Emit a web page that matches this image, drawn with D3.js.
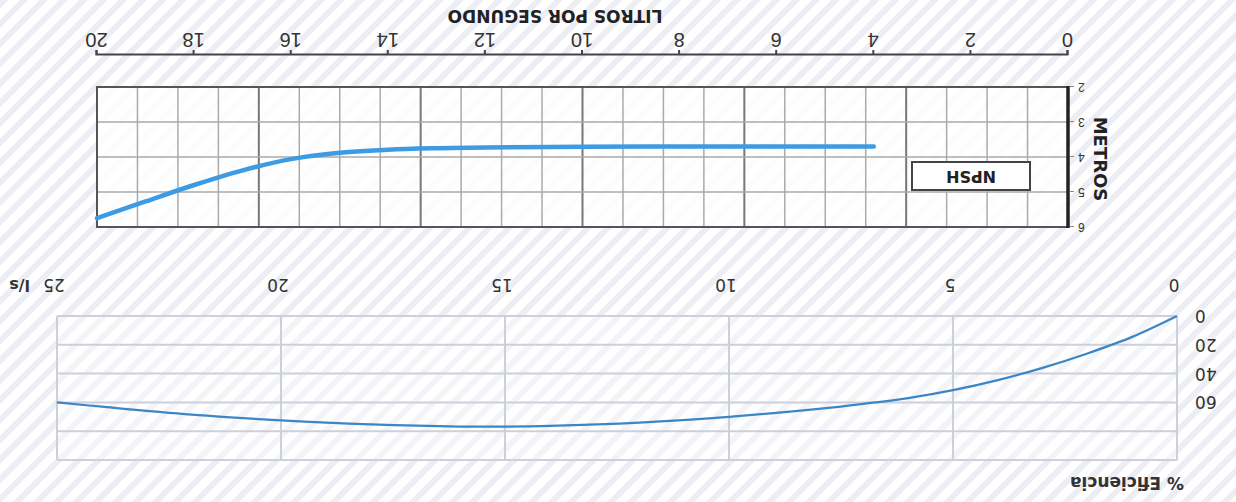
<!DOCTYPE html>
<html>
<head>
<meta charset="utf-8">
<script src="https://cdn.jsdelivr.net/npm/d3@7"></script>
<style>
  html, body { margin: 0; padding: 0; background: #fff; }
  svg { display: block; }
</style>
</head>
<body>
<div id="chart"></div>
<script>
// NPSH curve (litros por segundo -> metros)
const npshFlow   = [4, 6, 8, 10, 12, 13, 14, 15, 16, 17, 18, 19, 20];
const npshMeters = [3.70, 3.70, 3.70, 3.71, 3.73, 3.75, 3.79, 3.88, 4.06, 4.38, 4.80, 5.27, 5.75];
const npshXTicks = [0, 2, 4, 6, 8, 10, 12, 14, 16, 18, 20];
const npshYTicks = [2, 3, 4, 5, 6];

// Efficiency curve (l/s -> %)
const effFlow    = [0, 1, 2, 3, 4, 5, 6, 7, 8, 10, 12, 14, 15, 16, 18, 20, 22, 24, 25];
const effPercent = [0, 14.5, 26, 36, 44.5, 51.5, 57, 61, 64.5, 70, 74, 76.3, 76.8, 76.8, 75.3, 72.5, 68.5, 63, 60];
const effXTicks  = [0, 5, 10, 15, 20, 25];
const effYTicks  = [0, 20, 40, 60];
const effYGrid   = [0, 20, 40, 60, 80, 100];

const W = 1236, H = 502;

const svg = d3.select("#chart").append("svg")
  .attr("width", W)
  .attr("height", H);

// striped background
const defs = svg.append("defs");
const pat = defs.append("pattern")
  .attr("id", "stripes")
  .attr("patternUnits", "userSpaceOnUse")
  .attr("width", 14).attr("height", 14)
  .attr("patternTransform", "rotate(45)");
pat.append("rect").attr("width", 14).attr("height", 14).attr("fill", "#ffffff");
pat.append("rect").attr("width", 6).attr("height", 14).attr("fill", "#eceef4");
svg.append("rect").attr("width", W).attr("height", H).attr("fill", "url(#stripes)");

// the whole picture is printed upside down
const root = svg.append("g").attr("transform", `rotate(180 ${W / 2} ${H / 2})`);

// ---------- Efficiency panel ----------
const xE = d3.scaleLinear().domain([0, 25]).range([59, 1179]);
const yE = d3.scaleLinear().domain([0, 100]).range([186, 42]);

const eff = root.append("g");
eff.append("rect")
  .attr("x", xE(0)).attr("y", yE(100))
  .attr("width", xE(25) - xE(0)).attr("height", yE(0) - yE(100))
  .attr("fill", "rgba(255,255,255,0.35)");

eff.selectAll(".eh").data(effYGrid).enter().append("line")
  .attr("x1", xE(0)).attr("x2", xE(25))
  .attr("y1", d => yE(d)).attr("y2", d => yE(d))
  .attr("stroke", "#cdd0da").attr("stroke-width", 2);
eff.selectAll(".ev").data(effXTicks).enter().append("line")
  .attr("x1", d => xE(d)).attr("x2", d => xE(d))
  .attr("y1", yE(0)).attr("y2", yE(100))
  .attr("stroke", "#cdd0da").attr("stroke-width", 2);

eff.selectAll(".ext").data(effXTicks).enter().append("text")
  .attr("x", d => xE(d) + 3).attr("y", 217)
  .attr("text-anchor", "middle").attr("dominant-baseline", "central")
  .attr("font-family", "DejaVu Sans").attr("font-size", 17).attr("fill", "#333")
  .text(d => d);

eff.selectAll(".eyt").data(effYTicks).enter().append("text")
  .attr("x", 41).attr("y", d => yE(d))
  .attr("text-anchor", "end").attr("dominant-baseline", "central")
  .attr("font-family", "DejaVu Sans").attr("font-size", 17).attr("fill", "#333")
  .text(d => d);

eff.append("text")
  .attr("x", 1206).attr("y", 217)
  .attr("dominant-baseline", "central")
  .attr("font-family", "DejaVu Sans").attr("font-weight", "bold")
  .attr("font-size", 16).attr("fill", "#333")
  .text("l/s");

eff.append("text")
  .attr("x", 52).attr("y", 19)
  .attr("dominant-baseline", "central")
  .attr("font-family", "DejaVu Sans").attr("font-weight", "bold")
  .attr("font-size", 17).attr("fill", "#333")
  .text("% Eficiencia");

const effLine = d3.line()
  .x((d, i) => xE(effFlow[i]))
  .y(d => yE(d))
  .curve(d3.curveCatmullRom.alpha(0.5));
eff.append("path")
  .attr("d", effLine(effPercent))
  .attr("fill", "none").attr("stroke", "#3b86c6").attr("stroke-width", 2.2);

// ---------- NPSH panel ----------
const xN = d3.scaleLinear().domain([0, 20]).range([168, 1139]);
const yN = d3.scaleLinear().domain([2, 6]).range([415, 275]);

const npsh = root.append("g");
npsh.append("rect")
  .attr("x", xN(0)).attr("y", yN(6))
  .attr("width", xN(20) - xN(0)).attr("height", yN(2) - yN(6))
  .attr("fill", "rgba(255,255,255,0.8)");

// 24 columns, every 4th darker
const cols = d3.range(1, 24);
const xCol = d3.scaleLinear().domain([0, 24]).range([xN(0), xN(20)]);
npsh.selectAll(".nv").data(cols).enter().append("line")
  .attr("x1", d => xCol(d)).attr("x2", d => xCol(d))
  .attr("y1", yN(6)).attr("y2", yN(2))
  .attr("stroke", d => d % 4 === 0 ? "#777" : "#aaa")
  .attr("stroke-width", d => d % 4 === 0 ? 2 : 1.5);
npsh.selectAll(".nh").data([3, 4, 5]).enter().append("line")
  .attr("x1", xN(0)).attr("x2", xN(20))
  .attr("y1", d => yN(d)).attr("y2", d => yN(d))
  .attr("stroke", "#aaa").attr("stroke-width", 1.5);

npsh.append("rect")
  .attr("x", xN(0)).attr("y", yN(6))
  .attr("width", xN(20) - xN(0)).attr("height", yN(2) - yN(6))
  .attr("fill", "none").attr("stroke", "#555").attr("stroke-width", 2);
npsh.append("line")
  .attr("x1", xN(0)).attr("x2", xN(0))
  .attr("y1", yN(6) - 1).attr("y2", yN(2) + 1)
  .attr("stroke", "#222").attr("stroke-width", 3.5);

// y axis (metros)
const yAxis = npsh.append("g")
  .attr("transform", `translate(${xN(0) - 2},0)`)
  .call(d3.axisLeft(yN).tickValues(npshYTicks).tickFormat(d3.format("d")).tickSize(4).tickPadding(4));
yAxis.select(".domain").remove();
yAxis.selectAll("line").attr("stroke", "#888");
yAxis.selectAll("text")
  .attr("font-family", "Liberation Sans").attr("font-size", 12).attr("fill", "#333");

npsh.append("text")
  .attr("transform", `translate(136,${yN(4) - 2}) rotate(-90)`)
  .attr("text-anchor", "middle").attr("dominant-baseline", "central")
  .attr("font-family", "DejaVu Sans").attr("font-weight", "bold")
  .attr("font-size", 18).attr("fill", "#222")
  .text("METROS");

// x axis (litros por segundo)
const xAxis = npsh.append("g")
  .attr("transform", "translate(0,447)")
  .call(d3.axisBottom(xN).tickValues(npshXTicks).tickSizeInner(5).tickSizeOuter(5).tickPadding(3));
xAxis.select(".domain").attr("stroke", "#444").attr("stroke-width", 2);
xAxis.selectAll("line").attr("stroke", "#444").attr("stroke-width", 2);
xAxis.selectAll("text")
  .attr("font-family", "Liberation Sans").attr("font-size", 20).attr("fill", "#333");

npsh.append("text")
  .attr("x", 681).attr("y", 486)
  .attr("text-anchor", "middle").attr("dominant-baseline", "central")
  .attr("font-family", "DejaVu Sans").attr("font-weight", "bold")
  .attr("font-size", 17).attr("fill", "#222")
  .text("LITROS POR SEGUNDO");

// NPSH label box
npsh.append("rect")
  .attr("x", 206).attr("y", 312).attr("width", 118).attr("height", 28)
  .attr("fill", "#fff").attr("stroke", "#444").attr("stroke-width", 2);
npsh.append("text")
  .attr("x", 265).attr("y", 326)
  .attr("text-anchor", "middle").attr("dominant-baseline", "central")
  .attr("font-family", "DejaVu Sans").attr("font-weight", "bold")
  .attr("font-size", 16).attr("fill", "#222")
  .text("NPSH");

const npshLine = d3.line()
  .x((d, i) => xN(npshFlow[i]))
  .y(d => yN(d))
  .curve(d3.curveMonotoneX);
npsh.append("path")
  .attr("d", npshLine(npshMeters))
  .attr("fill", "none").attr("stroke", "#3d9be3").attr("stroke-width", 4.5)
  .attr("stroke-linecap", "round");
</script>
</body>
</html>
